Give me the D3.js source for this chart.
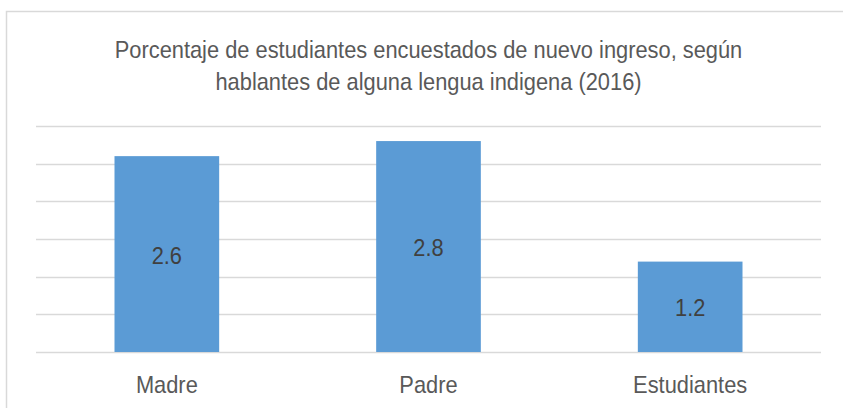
<!DOCTYPE html>
<html><head><meta charset="utf-8">
<script src="https://cdn.jsdelivr.net/npm/d3@7"></script>
<style>body{margin:0;background:#fff}svg{display:block}</style>
</head><body>
<svg id="chart" width="843" height="408"></svg>
<script>
const categories = ["Madre", "Padre", "Estudiantes"];
const values = [2.6, 2.8, 1.2];
const yTicks = [0, 0.5, 1, 1.5, 2, 2.5, 3];
const titleLines = ["Porcentaje de estudiantes encuestados de nuevo ingreso, según", "hablantes de alguna lengua indigena (2016)"];

const font = "'Liberation Sans',Arial,sans-serif";
const squeeze = 0.91;
const svg = d3.select("#chart");
svg.append("rect").attr("x", 6.5).attr("y", 11.5).attr("width", 850).attr("height", 410)
  .attr("fill", "#fff").attr("stroke", "#d9d9d9").attr("stroke-width", 1.5);

const x = d3.scaleBand().domain(categories).range([36, 821]).paddingInner(0.6).paddingOuter(0.3);
const y = d3.scaleLinear().domain([0, 3]).range([352, 126]);

svg.append("g").selectAll("line").data(yTicks).join("line")
  .attr("x1", 36).attr("x2", 821)
  .attr("y1", d => Math.round(y(d)) + 0.5).attr("y2", d => Math.round(y(d)) + 0.5)
  .attr("stroke", "#d9d9d9").attr("stroke-width", 1.3);

svg.append("g").selectAll("rect").data(values).join("rect")
  .attr("x", (d, i) => x(categories[i])).attr("width", x.bandwidth())
  .attr("y", d => y(d)).attr("height", d => y(0) - y(d))
  .attr("fill", "#5b9bd5");

function label(g, data, cx, cy, color) {
  g.selectAll("text").data(data).join("text")
    .attr("transform", (d, i) => `translate(${cx(d, i)},${cy(d, i)}) scale(${squeeze},1)`)
    .attr("text-anchor", "middle").attr("font-family", font).attr("font-size", 24)
    .attr("fill", color);
}

const vl = svg.append("g");
label(vl, values, (d, i) => x(categories[i]) + x.bandwidth() / 2, d => (y(d) + y(0)) / 2 + 9.5, "#404040");
vl.selectAll("text").text(d => d.toFixed(1));

const cl = svg.append("g");
label(cl, categories, d => x(d) + x.bandwidth() / 2, () => 393, "#595959");
cl.selectAll("text").text(d => d);

const tl = svg.append("g");
label(tl, titleLines, () => 428.5, (d, i) => 57.5 + i * 32, "#595959");
tl.selectAll("text").text(d => d);
</script>
</body></html>
